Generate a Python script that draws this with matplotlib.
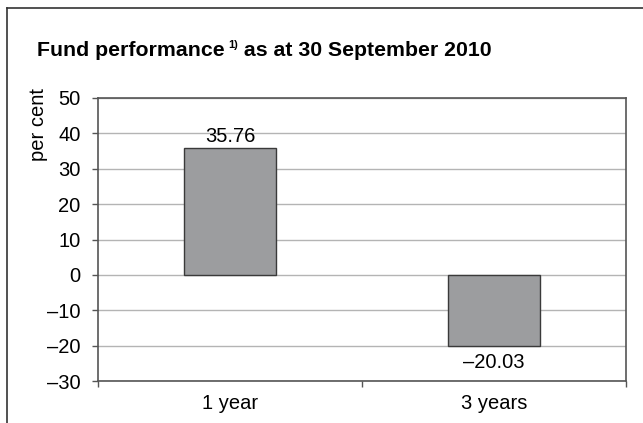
import matplotlib
matplotlib.use("Agg")
from matplotlib import pyplot as plt
from matplotlib.lines import Line2D
from matplotlib.ticker import FixedLocator, FuncFormatter

plt.rcParams['font.family'] = ['Liberation Sans', 'DejaVu Sans']

# data
categories = ["1 year", "3 years"]
values = [35.76, -20.03]
value_labels = ["35.76", "\u201320.03"]
y_ticks = [-30, -20, -10, 0, 10, 20, 30, 40, 50]

FS = 14.5
TITLE_FS = 15.3

fig = plt.figure(figsize=(6.43, 4.23), dpi=100)
ax = fig.add_axes([98 / 643, 42 / 423, 528 / 643, 283 / 423])

x = list(range(len(categories)))
ax.bar(x, values, width=0.35, color="#9c9d9f", edgecolor="#3a3a3a", linewidth=1.0, zorder=3)

ax.set_xlim(-0.5, len(categories) - 0.5)
ax.set_ylim(-30, 50)
ax.set_yticks(y_ticks)
ax.yaxis.set_major_formatter(FuncFormatter(lambda v, p: f"{int(v)}".replace("-", "\u2013")))
ax.grid(axis="y", color="#b4b4b4", linewidth=1.0, zorder=0)

ax.set_xticks(x)
ax.set_xticklabels(categories, fontsize=FS)
ax.xaxis.set_minor_locator(FixedLocator([-0.5, 0.5, 1.5]))
ax.tick_params(axis="x", which="major", length=0, pad=9)
ax.tick_params(axis="x", which="minor", length=4, width=1, color="#555555", direction="out")
ax.tick_params(axis="y", length=4, width=1, color="#555555", labelsize=FS, pad=8.5)

for s in ax.spines.values():
    s.set_color("#555555")
    s.set_linewidth(1.2)

ax.set_ylabel("per cent", fontsize=FS)
ax.yaxis.set_label_coords(-0.095, 0.908)

# value labels
for xi, v, lab in zip(x, values, value_labels):
    if v >= 0:
        ax.annotate(lab, (xi, v), xytext=(0, 2), textcoords="offset points",
                    ha="center", va="bottom", fontsize=FS)
    else:
        ax.annotate(lab, (xi, v), xytext=(0, -5), textcoords="offset points",
                    ha="center", va="top", fontsize=FS)

# title with superscript
renderer = fig.canvas.get_renderer()
tx, ty = 37 / 643, 1 - 56 / 423
t1 = fig.text(tx, ty, "Fund performance", fontsize=TITLE_FS, fontweight="bold", va="baseline")
w1 = t1.get_window_extent(renderer).width / fig.bbox.width
t2 = fig.text(tx + w1 + 4 / 643, ty + 8 / 423, "1)", fontsize=8, fontweight="bold", va="baseline")
w2 = t2.get_window_extent(renderer).width / fig.bbox.width
fig.text(tx + w1 + 4 / 643 + w2, ty, " as at 30 September 2010", fontsize=TITLE_FS, fontweight="bold", va="baseline")

# outer frame (left and top edges)
fig.add_artist(Line2D([7 / 643, 7 / 643], [0, 1 - 8 / 423], transform=fig.transFigure, color="#333333", linewidth=1.2))
fig.add_artist(Line2D([7 / 643, 1], [1 - 8 / 423, 1 - 8 / 423], transform=fig.transFigure, color="#333333", linewidth=1.2))

fig.savefig("out.png", dpi=100)
